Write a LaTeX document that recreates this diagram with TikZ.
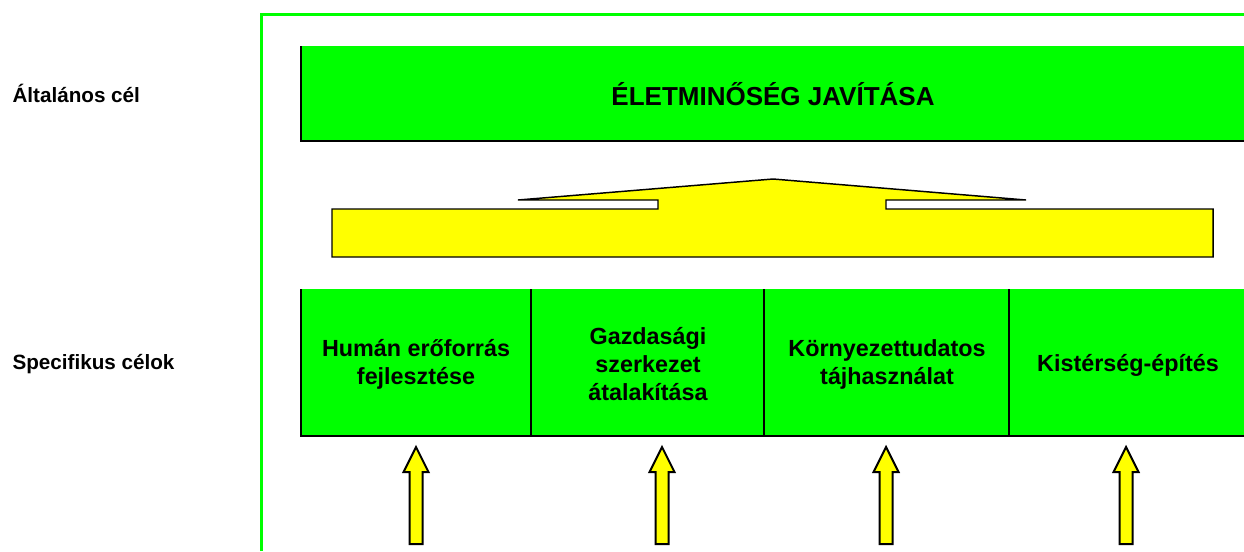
\documentclass[tikz,border=0pt]{standalone}
\usepackage{fontspec}
\setmainfont{Liberation Sans}
\usetikzlibrary{positioning}

\definecolor{zold}{RGB}{0,255,0}
\definecolor{sarga}{RGB}{255,255,0}

\tikzset{every picture/.style={line width=0.75pt}}
\tikzset{
  felirat/.style={font=\fontsize{17.5}{21}\selectfont\bfseries, align=center, inner sep=0.75pt},
  oldal/.style={font=\fontsize{15.5}{18}\selectfont\bfseries, anchor=base west, inner sep=0pt},
  nyil/.style={fill=sarga, draw=black, line width=1.5pt, line join=miter},
  szegely/.style={draw=black, line width=1.1pt}
}

\begin{document}
\begin{tikzpicture}[x=0.75pt,y=0.75pt,yscale=-1,xscale=1]
\useasboundingbox (0,0) rectangle (1244,551);

%Shape: Frame
\draw [zold, line width=2.25pt] (261,551) -- (261,14) -- (1244,14) ;

%Shape: Rectangle (altalanos cel)
\fill [zold] (301,46) rectangle (1244,141) ;
\draw [szegely] (301,46) -- (301,141) -- (1244,141) ;

%Shape: Block arrow (yellow)
\draw [nyil, line width=1.1pt] (332,209) -- (658,209) -- (658,200) -- (518,200) -- (773,179) -- (1026,200) -- (886,200) -- (886,209) -- (1213,209) -- (1213,257) -- (332,257) -- cycle ;

%Shape: Rectangle (specifikus celok)
\fill [zold] (301,289) rectangle (1244,436) ;
\draw [szegely] (301,289) -- (301,436) -- (1244,436) ;
\foreach \dx in {531,764,1009}
  \draw [szegely] (\dx,289) -- (\dx,436) ;

%Shape: Up arrows
\foreach \ax in {416,662,886,1126}
  \draw [nyil] (\ax,447) -- (\ax+12.5,472) -- (\ax+6.5,472) -- (\ax+6.5,544) -- (\ax-6.5,544) -- (\ax-6.5,472) -- (\ax-12.5,472) -- cycle ;

% Text Node
\draw (12,102) node [oldal] (altalanos) {Általános cél};
% Text Node
\draw (12,369) node [oldal] (specifikus) {Specifikus célok};
% Text Node
\draw (773,105) node [anchor=base, inner sep=0pt, font=\fontsize{19.5}{23}\selectfont\bfseries] (eletminoseg) {ÉLETMINŐSÉG JAVÍTÁSA};
% Text Node
\draw (416,364) node [felirat] (human) {Humán erőforrás\\fejlesztése};
% Text Node
\draw (648,364) node [felirat] (gazdasagi) {Gazdasági\\szerkezet\\átalakítása};
% Text Node
\draw (887,364.5) node [felirat] (kornyezet) {Környezettudatos\\tájhasználat};
% Text Node
\draw (1128,371) node [felirat, anchor=base] (kisterseg) {Kistérség-építés};

\end{tikzpicture}
\end{document}
